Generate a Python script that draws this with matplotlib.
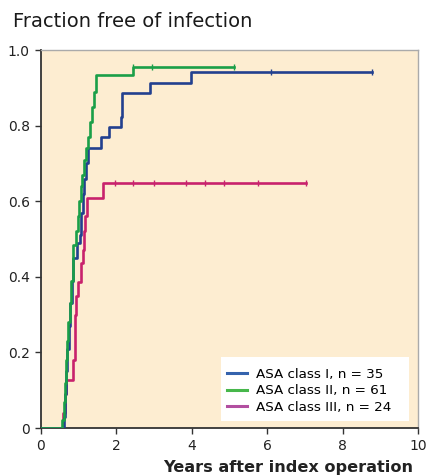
import matplotlib
matplotlib.use("Agg")
import matplotlib.pyplot as plt
from matplotlib.lines import Line2D
from matplotlib.patches import Rectangle

plt.rcParams['font.family'] = ['DejaVu Sans']

# ---- data ----
green_t = [0.57, 0.60, 0.63, 0.66, 0.69, 0.72, 0.76, 0.80, 0.86, 0.94, 0.98, 1.02, 1.06,
           1.10, 1.15, 1.20, 1.25, 1.30, 1.35, 1.40, 1.46, 2.43]
green_s = [0.02, 0.07, 0.12, 0.18, 0.23, 0.28, 0.33, 0.39, 0.484, 0.52, 0.56, 0.60, 0.64,
           0.67, 0.71, 0.74, 0.77, 0.81, 0.85, 0.89, 0.934, 0.956]
green_end = 5.13
green_cens = [2.43, 2.94, 5.12]

blue_t = [0.60, 0.63, 0.66, 0.70, 0.74, 0.78, 0.82, 0.86, 0.95, 1.03, 1.07, 1.11, 1.15,
          1.19, 1.25, 1.58, 1.81, 2.11, 2.15, 2.89, 3.97]
blue_s = [0.03, 0.09, 0.15, 0.21, 0.27, 0.33, 0.39, 0.45, 0.49, 0.51, 0.57, 0.62, 0.66,
          0.70, 0.742, 0.769, 0.797, 0.824, 0.885, 0.914, 0.941]
blue_end = 8.77
blue_cens = [6.1, 8.77]

mag_t = [0.59, 0.63, 0.67, 0.86, 0.89, 0.91, 0.93, 0.97, 1.05, 1.11, 1.14, 1.17, 1.21, 1.65]
mag_s = [0.04, 0.09, 0.127, 0.18, 0.24, 0.30, 0.35, 0.387, 0.436, 0.47, 0.52, 0.56, 0.609, 0.649]
mag_end = 7.02
mag_cens = [1.95, 2.43, 3.0, 3.85, 4.35, 4.85, 5.76, 7.02]

labels = ["ASA class I, n = 35", "ASA class II, n = 61", "ASA class III, n = 24"]
xticks = [0, 2, 4, 6, 8, 10]
yticks = [0, 0.2, 0.4, 0.6, 0.8, 1.0]
yticklabels = ["0", "0.2", "0.4", "0.6", "0.8", "1.0"]

line_cols = ["#22408f", "#1a9f48", "#c8226c"]
leg_cols = ["#3563ad", "#47b74b", "#b24fa0"]

fig = plt.figure(figsize=(4.31, 4.76), dpi=100)
ax = fig.add_axes([41/431, 1-428/476, 377/431, 378/476])
ax.set_facecolor("#fdedd1")


def curve(ts, ss, end):
    x = [0.0] + list(ts) + [end]
    y = [0.0] + list(ss) + [ss[-1]]
    return x, y


def cens_y(ts, ss, c):
    v = 0.0
    for t, s in zip(ts, ss):
        if t <= c + 1e-9:
            v = s
    return v


for (ts, ss, end, cens, col) in [
        (mag_t, mag_s, mag_end, mag_cens, line_cols[2]),
        (blue_t, blue_s, blue_end, blue_cens, line_cols[0]),
        (green_t, green_s, green_end, green_cens, line_cols[1])]:
    x, y = curve(ts, ss, end)
    ax.step(x, y, where="post", color=col, lw=1.9, zorder=3)
    ax.plot(cens, [cens_y(ts, ss, c) for c in cens], ls="none", marker="|",
            ms=5, mew=1.0, color=col, zorder=4)

ax.set_xlim(0, 10)
ax.set_ylim(0, 1.0)
ax.set_xticks(xticks)
ax.set_xticklabels([str(t) for t in xticks])
ax.set_yticks(yticks)
ax.set_yticklabels(yticklabels)
ax.tick_params(axis="both", direction="out", length=4, width=1, color="#333333",
               labelsize=10, labelcolor="#222222", pad=4)

for s in ["left", "bottom"]:
    ax.spines[s].set_color("#333333")
    ax.spines[s].set_linewidth(1.3)
for s in ["top", "right"]:
    ax.spines[s].set_color("#aaaaaa")
    ax.spines[s].set_linewidth(1.0)

# white legend box
ax.add_patch(Rectangle((180/377, 7/378), 188/377, 64/378, transform=ax.transAxes,
                       facecolor="white", edgecolor="none", zorder=5))

handles = [Line2D([0], [0], color=c, lw=2.2) for c in leg_cols]
leg = ax.legend(handles, labels, loc="lower right", bbox_to_anchor=(0.9496, 0.018),
                frameon=False, fontsize=9.7, handlelength=1.5,
                handletextpad=0.65, labelspacing=0.25, borderpad=0.55, borderaxespad=0)
leg.set_zorder(6)

fig.text(13/431, 1-27/476, "Fraction free of infection", fontsize=14,
         color="#1a1a1a", ha="left", va="baseline")
fig.text(413/431, 1-472/476, "Years after index operation", fontsize=11.6,
         fontweight="bold", color="#222222", ha="right", va="baseline")

fig.savefig("out.png", dpi=100)
